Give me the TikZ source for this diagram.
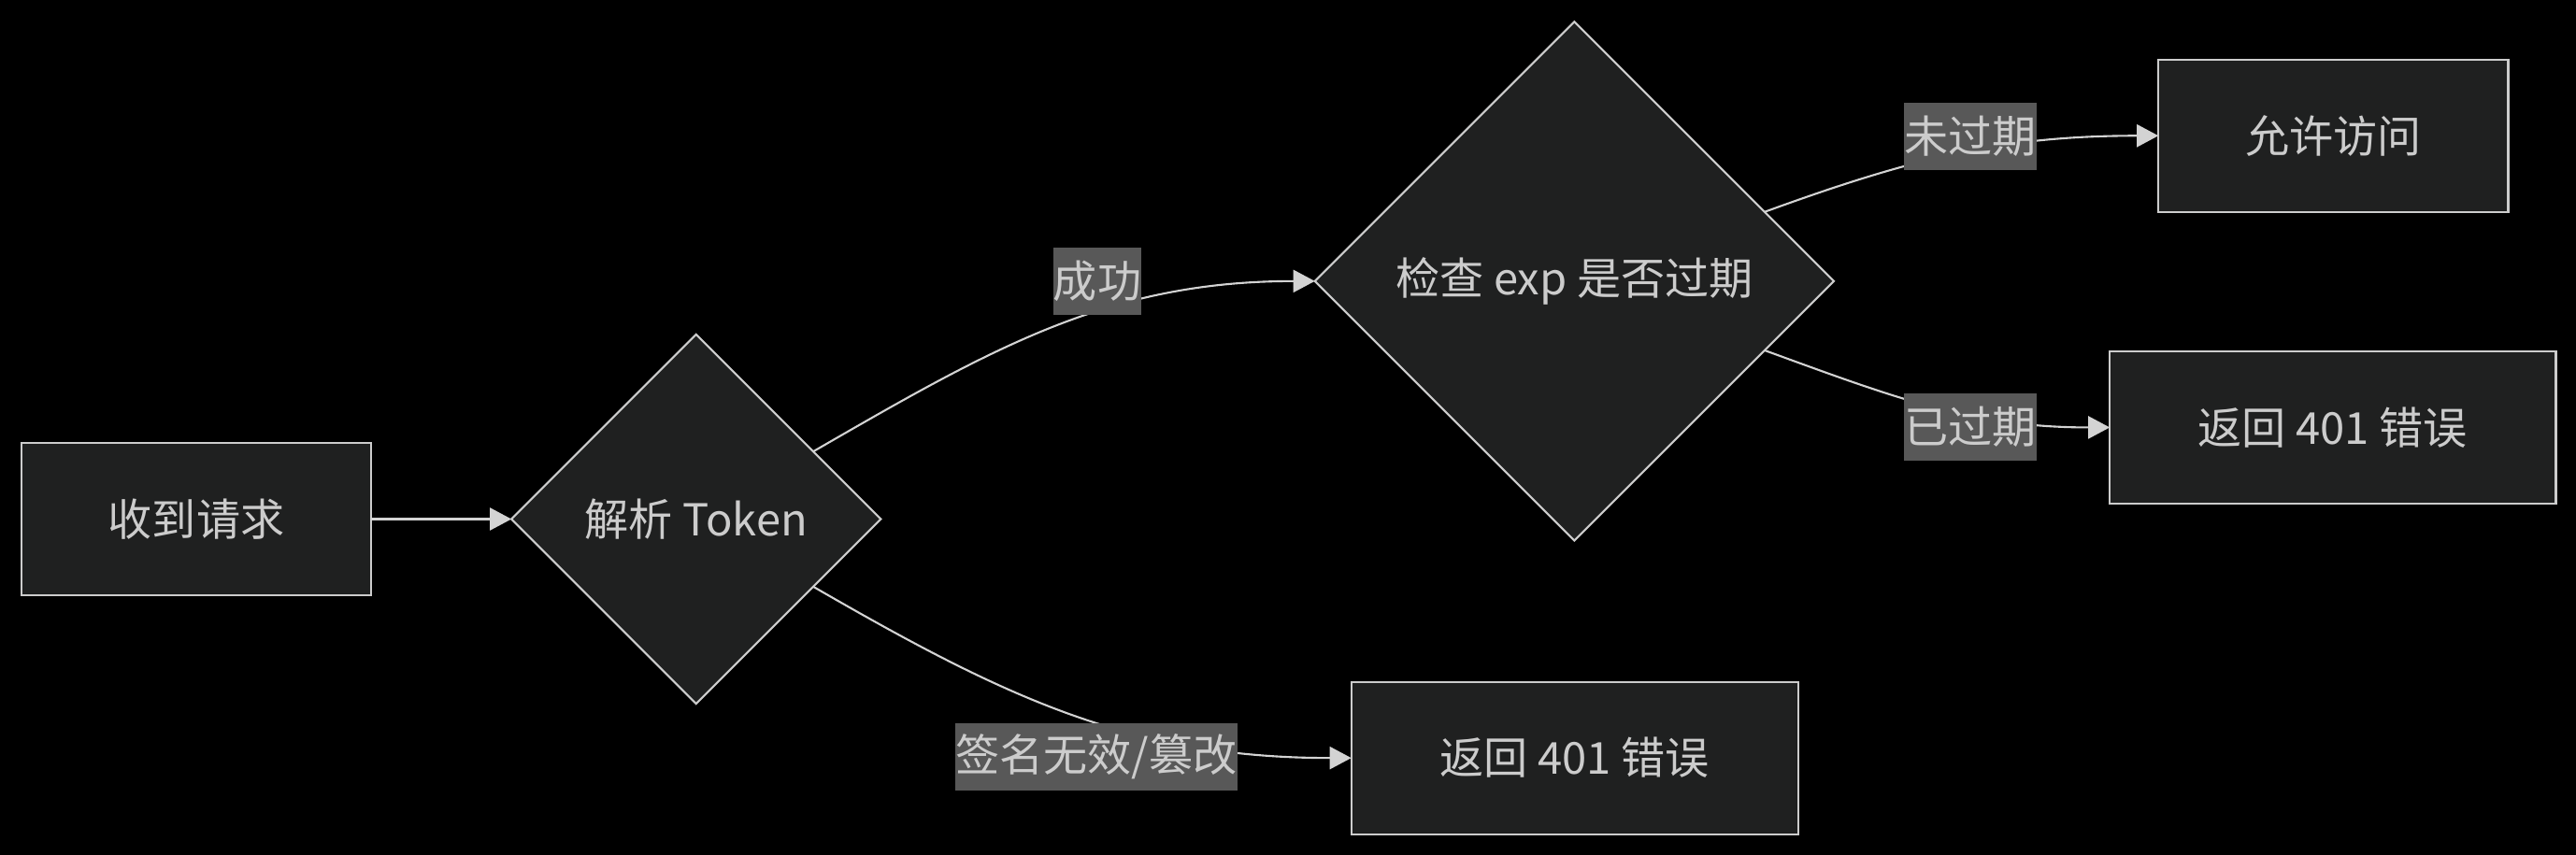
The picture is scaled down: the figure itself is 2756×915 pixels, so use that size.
\documentclass[tikz,border=0pt]{standalone}
\usepackage{fontspec}
\setmainfont{Noto Sans CJK SC}
\usepackage{xcolor}
\usetikzlibrary{positioning}
\usetikzlibrary{shapes.geometric}
\usetikzlibrary{arrows.meta}
\definecolor{nodebg}{HTML}{1F2020}
\definecolor{nodeline}{HTML}{CCCCCC}
\definecolor{edgeline}{HTML}{D3D3D3}
\definecolor{tagbg}{HTML}{585858}
\definecolor{txt}{HTML}{CCCCCC}

\begin{document}
\begin{tikzpicture}[x=0.01cm, y=-0.01cm, font=\fontsize{13.4}{16}\selectfont, text=txt,  block/.style={    draw=nodeline,    fill=nodebg,    line width=0.6pt,    rectangle,    outer sep=0pt,    minimum height=1.63cm,    align=center  },  decision/.style={    draw=nodeline,    fill=nodebg,    line width=0.6pt,    diamond,    aspect=1,    outer sep=0pt,    inner sep=0pt  },  arrow/.style={    draw=edgeline,    line width=0.6pt,    -{Triangle[length=0.23cm, width=0.24cm]}  },  tag/.style={    fill=tagbg,    inner sep=0pt,    minimum height=0.72cm  }]
		\fill[black] (0,0) rectangle (2756,915);
		% Nodes
		\node[block, minimum width=3.74cm] (Req) at (210,555.5) {收到请求};
		\node[decision, minimum size=3.95cm, right=1.5cm of Req] (Parse) {解析 Token};
		\node[decision, minimum size=5.55cm, right=4.64cm of Parse, yshift=2.545cm] (Exp) {检查 exp 是否过期};
		\node[block, minimum width=4.78cm, right=5.03cm of Parse, yshift=-2.555cm] (Bad) {返回 401 错误};
		\node[block, minimum width=3.74cm, right=3.47cm of Exp, yshift=1.555cm] (Ok) {允许访问};
		\node[block, minimum width=4.77cm, right=2.95cm of Exp, yshift=-1.565cm] (Deny) {返回 401 错误};
		% Arrows
		\draw[arrow] (Req) -- (Parse);
		\draw[arrow] (Parse.30) to[out=30, in=180] (Exp.west);
		\draw[arrow] (Parse.-30) to[out=-30, in=180] (Bad.west);
		\draw[arrow] (Exp.20) to[out=20, in=180] (Ok.west);
		\draw[arrow] (Exp.-20) to[out=-20, in=180] (Deny.west);
		% Labels
		\node[tag] (tOk) at (1174,301) {成功};
		\node[tag] (tBad) at (1173,810) {签名无效/篡改};
		\node[tag] (tFresh) at (2108,146) {未过期};
		\node[tag] (tOld) at (2108,457) {已过期};
	\end{tikzpicture}
\end{document}
